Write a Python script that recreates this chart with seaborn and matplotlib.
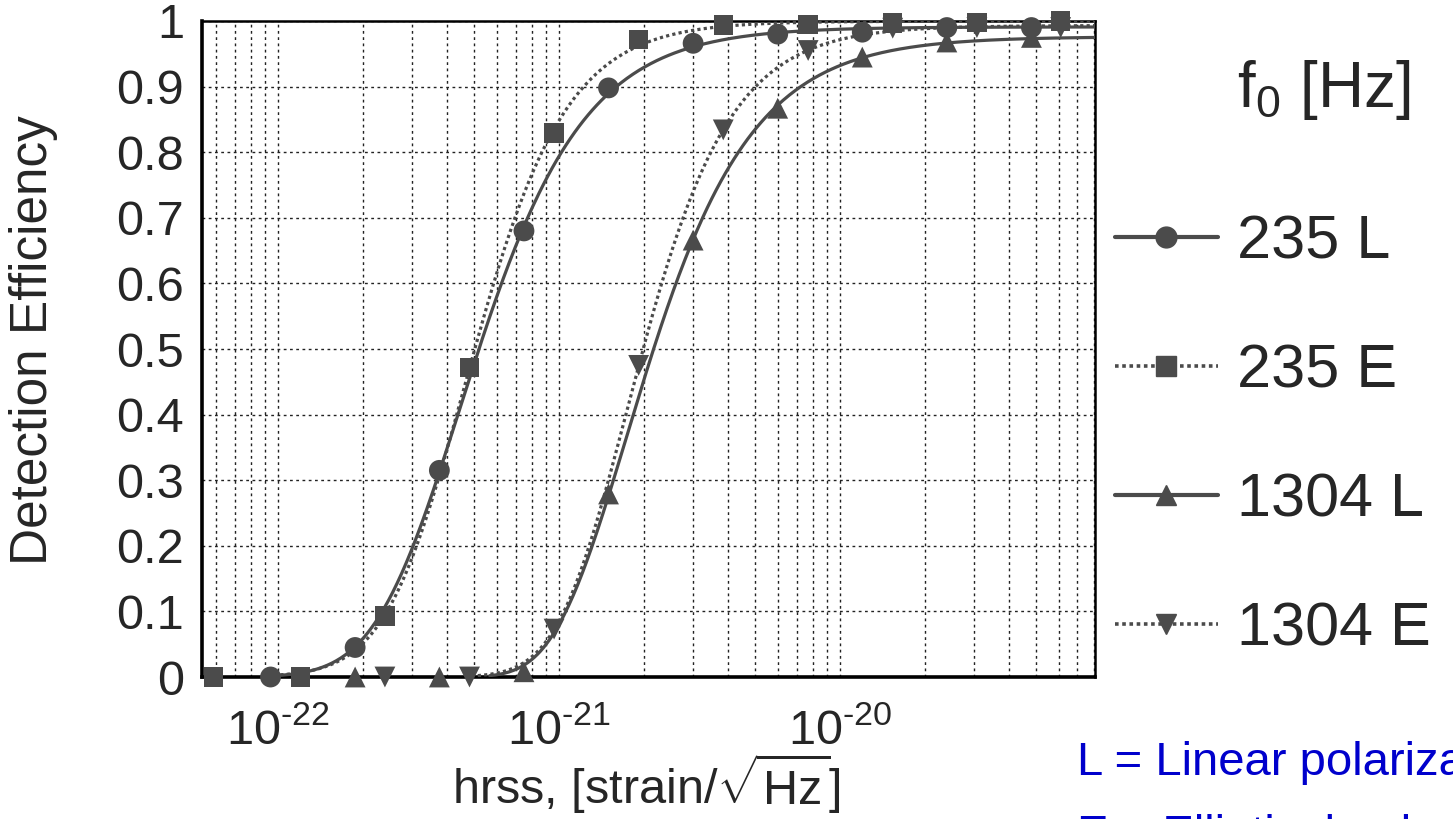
import numpy as np
import pandas as pd
import matplotlib
matplotlib.use("Agg")
import matplotlib.pyplot as plt
import seaborn as sns
from matplotlib.lines import Line2D
from matplotlib.ticker import FixedLocator, FixedFormatter, LogLocator, NullFormatter, MultipleLocator

# ---------------- data ----------------
hrss_235L = [9.4e-23, 1.88e-22, 3.75e-22, 7.5e-22, 1.5e-21, 3.0e-21, 6.0e-21, 1.2e-20, 2.4e-20, 4.8e-20]
eff_235L = [0.0, 0.045, 0.315, 0.68, 0.898, 0.966, 0.98, 0.983, 0.99, 0.99]

hrss_235E = [5.9e-23, 1.2e-22, 2.4e-22, 4.8e-22, 9.6e-22, 1.92e-21, 3.84e-21, 7.7e-21, 1.54e-20, 3.07e-20, 6.1e-20]
eff_235E = [0.0, 0.0, 0.093, 0.472, 0.829, 0.972, 0.994, 0.995, 0.997, 0.998, 1.0]

hrss_1304L = [1.88e-22, 3.75e-22, 7.5e-22, 1.5e-21, 3.0e-21, 6.0e-21, 1.2e-20, 2.4e-20, 4.8e-20]
eff_1304L = [0.0, 0.0, 0.008, 0.279, 0.666, 0.867, 0.945, 0.968, 0.975]

hrss_1304E = [2.4e-22, 4.8e-22, 9.6e-22, 1.92e-21, 3.84e-21, 7.7e-21, 1.54e-20, 3.07e-20, 6.1e-20]
eff_1304E = [0.0, 0.0, 0.073, 0.475, 0.834, 0.955, 0.989, 0.99, 0.99]

series_labels = ["235 L", "235 E", "1304 L", "1304 E"]
legend_title = r"f$_{\mathdefault{0}}$ [Hz]"
x_label = r"hrss, [strain/$\sqrt{\mathrm{Hz}}$]"
y_label = "Detection Efficiency"
x_major_ticks = [1e-22, 1e-21, 1e-20]
x_tick_labels = [r"$\mathdefault{10^{\text{-}22}}$", r"$\mathdefault{10^{\text{-}21}}$",
                 r"$\mathdefault{10^{\text{-}20}}$"]
y_ticks = [0, 0.1, 0.2, 0.3, 0.4, 0.5, 0.6, 0.7, 0.8, 0.9, 1.0]
y_tick_labels = ["0", "0.1", "0.2", "0.3", "0.4", "0.5", "0.6", "0.7", "0.8", "0.9", "1"]
note_lines = ["L = Linear polarization", "E = Elliptical polarization"]
x_limits = (5.36e-23, 8.08e-20)
y_limits = (0.0, 1.0)

# ---------------- style ----------------
sns.set_style("white")
plt.rcParams["font.family"] = ["Liberation Sans", "DejaVu Sans"]
plt.rcParams["mathtext.fontset"] = "custom"
plt.rcParams["mathtext.rm"] = "Liberation Sans"
plt.rcParams["mathtext.it"] = "Liberation Sans:italic"
plt.rcParams["mathtext.bf"] = "Liberation Sans:bold"
plt.rcParams["axes.unicode_minus"] = False

GRAY = "#4b4b4b"
styles = {
    "235 L": dict(marker="o", ls="-", ms=15),
    "235 E": dict(marker="s", ls=(0, (1, 1)), ms=14),
    "1304 L": dict(marker="^", ls="-", ms=15),
    "1304 E": dict(marker="v", ls=(0, (1, 1)), ms=15),
}
data = {
    "235 L": (hrss_235L, eff_235L),
    "235 E": (hrss_235E, eff_235E),
    "1304 L": (hrss_1304L, eff_1304L),
    "1304 E": (hrss_1304E, eff_1304E),
}


def fit_sigmoid(x, y):
    """Least-squares fit of an asymmetric logistic in log10(hrss) (grid search)."""
    u = np.log10(np.asarray(x))
    y = np.asarray(y)

    def search(u0s, ss, ps):
        U0, S, P = np.meshgrid(u0s, ss, ps, indexing="ij")
        with np.errstate(all="ignore"):
            g = (1.0 + np.exp(-S[..., None] * (u - U0[..., None]))) ** (-P[..., None])
            g = np.nan_to_num(g)
            A = np.clip((g * y).sum(-1) / np.maximum((g * g).sum(-1), 1e-30), 0, 1)
            err = ((A[..., None] * g - y) ** 2).sum(-1)
        i = np.unravel_index(np.argmin(err), err.shape)
        return U0[i], S[i], P[i], A[i]

    u0, s, p, A = search(np.linspace(-23.5, -19.5, 161), np.geomspace(1, 40, 40), np.geomspace(0.1, 20, 40))
    u0, s, p, A = search(np.linspace(u0 - 0.05, u0 + 0.05, 41),
                         np.geomspace(s / 1.2, s * 1.2, 41),
                         np.geomspace(p / 1.2, p * 1.2, 41))
    return u0, s, p, A


# ---------------- figure ----------------
fig = plt.figure(figsize=(14.53, 8.19), dpi=100)
ax = fig.add_axes([0.13902, 0.17338, 0.61459, 0.80098])
ax.set_xscale("log")
ax.set_xlim(*x_limits)
ax.set_ylim(*y_limits)

uu = np.linspace(np.log10(x_limits[0]), np.log10(x_limits[1]), 600)
for name in series_labels:
    xs, ys = data[name]
    st = styles[name]
    u0, s, p, A = fit_sigmoid(xs, ys)
    with np.errstate(all="ignore"):
        f = A * (1.0 + np.exp(-s * (uu - u0))) ** (-p)
    keep = f > 0.002
    curve = pd.DataFrame({"hrss": 10 ** uu[keep], "eff": f[keep]})
    sns.lineplot(data=curve, x="hrss", y="eff", ax=ax, color=GRAY,
                 linewidth=2.3, linestyle=st["ls"], legend=False, zorder=3)
    pts = pd.DataFrame({"hrss": xs, "eff": ys})
    sns.scatterplot(data=pts, x="hrss", y="eff", ax=ax, color=GRAY,
                    marker=st["marker"], s=st["ms"] ** 2, linewidth=0,
                    edgecolor="none", legend=False, zorder=4, clip_on=False)

# ticks
ax.xaxis.set_major_locator(FixedLocator(x_major_ticks))
ax.xaxis.set_major_formatter(FixedFormatter(x_tick_labels))
ax.xaxis.set_minor_locator(LogLocator(base=10, subs=np.arange(2, 10)))
ax.xaxis.set_minor_formatter(NullFormatter())
ax.yaxis.set_major_locator(FixedLocator(y_ticks))
ax.yaxis.set_major_formatter(FixedFormatter(y_tick_labels))
ax.yaxis.set_minor_locator(MultipleLocator(0.02))

ax.tick_params(axis="both", which="both", direction="in", color="black",
               top=False, right=False)
ax.tick_params(axis="y", which="major", length=21, width=1.3, labelsize=35, pad=13)
ax.tick_params(axis="y", which="minor", length=9, width=1.1)
ax.tick_params(axis="x", which="major", length=11, width=1.3, labelsize=35, pad=22)
ax.tick_params(axis="x", which="minor", length=6, width=1.1)

# grid
grid_kw = dict(color="#222222", linewidth=1.0, linestyle=(0, (2, 2.5)))
ax.xaxis.grid(True, which="both", **grid_kw)
ax.yaxis.grid(True, which="major", **grid_kw)
ax.set_axisbelow(True)

for side in ["left", "bottom"]:
    ax.spines[side].set_linewidth(2.6)
for side in ["top", "right"]:
    ax.spines[side].set_linewidth(1.8)
for sp in ax.spines.values():
    sp.set_color("black")
    sp.set_visible(True)

ax.set_xlabel(x_label, fontsize=35)
ax.set_ylabel(y_label, fontsize=37)
ax.xaxis.set_label_coords(0.497, -0.113)
ax.xaxis.label.set_va("top")
ax.yaxis.set_label_coords(-0.161, 0.514)

# legend
handles = [Line2D([], [], color=GRAY, linewidth=3.0 if styles[n]["ls"] == "-" else 2.6,
                  linestyle=styles[n]["ls"], marker=styles[n]["marker"],
                  markersize=styles[n]["ms"]) for n in series_labels]
ax.legend(handles, series_labels, loc="center left", bbox_to_anchor=(0.7674, 0.467),
          bbox_transform=fig.transFigure, frameon=False, fontsize=44,
          handlelength=1.68, handletextpad=0.32, labelspacing=1.18,
          borderpad=0, borderaxespad=0)
fig.text(0.851, 0.8694, legend_title, fontsize=46, va="baseline", ha="left")

# annotation
fig.text(0.7412, 0.0535, note_lines[0], fontsize=34, color="#0000CC", va="baseline", ha="left")
fig.text(0.7412, -0.0354, note_lines[1], fontsize=34, color="#0000CC", va="baseline", ha="left")

fig.savefig("out.png", dpi=100)
